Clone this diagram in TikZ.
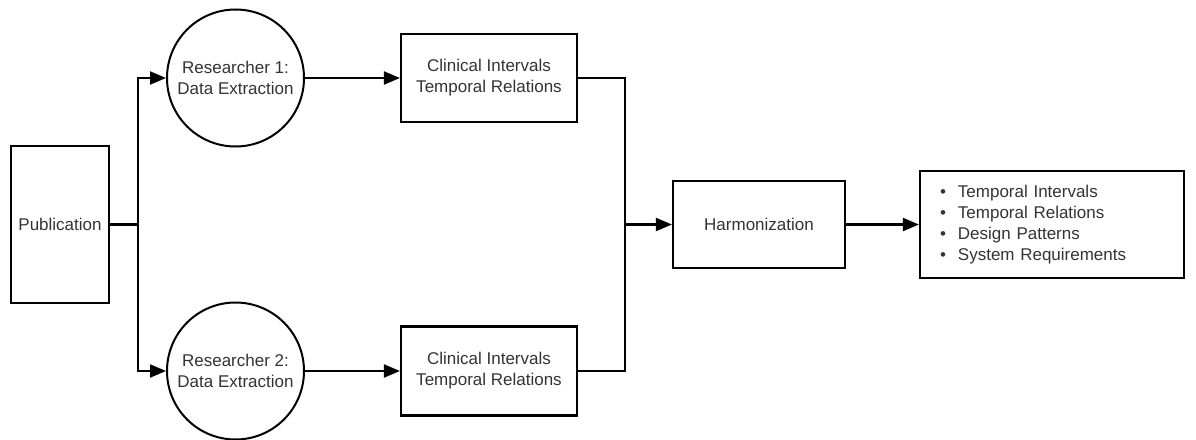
\documentclass[tikz,border=0pt]{standalone}
\usepackage{fontspec}
\setmainfont{Liberation Sans}
\usetikzlibrary{arrows.meta}
\begin{document}
\begin{tikzpicture}[x=1pt,y=-1pt,
  every node/.style={font=\fontsize{17}{21}\selectfont, text=black!80},
  box/.style={draw=black, line width=2.2pt, rectangle, align=center, inner sep=0pt},
  rcircle/.style={draw=black, line width=2pt, circle, align=center, inner sep=0pt, minimum size=137pt},
  conn/.style={draw=black, line width=2.2pt},
  arr/.style={conn, -{Triangle[length=16pt,width=13pt]}}]
\useasboundingbox (0,0) rectangle (1196,439);
\node[box, minimum width=98pt, minimum height=157pt] (pub) at (60,224.5) {Publication};
\node[rcircle] (r1) at (235.5,78) {Researcher 1:\\Data Extraction};
\node[rcircle] (r2) at (235.5,371) {Researcher 2:\\Data Extraction};
\node[box, minimum width=176pt, minimum height=88pt] (ci1) at (489,78) {Clinical Intervals\\Temporal Relations};
\node[box, minimum width=176pt, minimum height=89pt] (ci2) at (489,371) {Clinical Intervals\\Temporal Relations};
\node[box, minimum width=172pt, minimum height=87pt] (harm) at (759,224.5) {Harmonization};
\node[box, minimum width=264pt, minimum height=107pt, text width=224pt, align=left, inner xsep=20pt] (out) at (1052,224.5)
  {\begin{tabular}{@{}l@{\hspace{12pt}}l@{}}
   \textbullet & Temporal Intervals\\
   \textbullet & Temporal Relations\\
   \textbullet & Design Patterns\\
   \textbullet & System Requirements
   \end{tabular}};
\coordinate (sp) at (138,224.5);
\coordinate (mg) at (625,224.5);
\draw[conn] (pub.east) -- (sp);
\draw[arr] (sp) |- (r1.west);
\draw[arr] (sp) |- (r2.west);
\draw[arr] (r1.east) -- (ci1.west);
\draw[arr] (r2.east) -- (ci2.west);
\draw[conn] (ci1.east) -| (mg);
\draw[conn] (ci2.east) -| (mg);
\draw[arr] (mg) -- (harm.west);
\draw[arr] (harm.east) -- (out.west);
\end{tikzpicture}
\end{document}
